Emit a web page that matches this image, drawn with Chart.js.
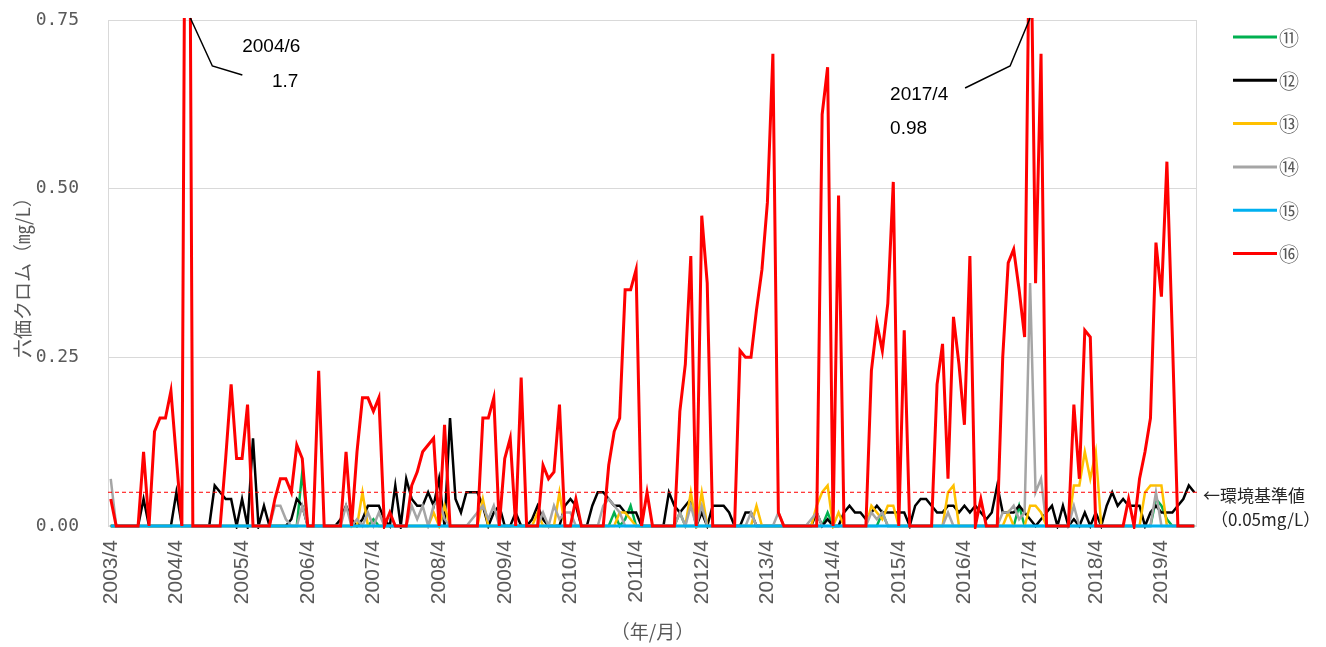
<!DOCTYPE html>
<html lang="ja">
<head>
<meta charset="utf-8">
<title>六価クロム</title>
<script src="https://cdn.jsdelivr.net/npm/chart.js@4.4.1/dist/chart.umd.min.js"></script>
<style>
  html, body { margin: 0; padding: 0; background: #fff; }
  #wrap { width: 1326px; height: 647px; }
</style>
</head>
<body>
<div id="wrap"><canvas id="canvas" width="1326" height="647"></canvas></div>
<script>
// monthly categories 2003/4 .. 2019/10
const months = [];
for (let i = 0; i < 199; i++) {
  const m = 3 + i;
  months.push((2003 + Math.floor(m / 12)) + '/' + (m % 12 + 1));
}
const yearTicks = months.filter(l => l.endsWith('/4'));
const yTicks = [0, 0.25, 0.5, 0.75];

const seriesNames = ['⑪', '⑫', '⑬', '⑭', '⑮', '⑯'];
const seriesColors = ['#00B050', '#000000', '#FFC000', '#A5A5A5', '#00B0F0', '#FF0000'];

// one row = one fiscal year (Apr .. Mar)
const s11 = [
  0, 0, 0, 0, 0, 0, 0, 0, 0, 0, 0, 0,
  0, 0, 0, 0, 0, 0, 0, 0, 0, 0, 0, 0,
  0, 0, 0, 0, 0, 0, 0, 0, 0, 0, 0, 0.08,
  0, 0, 0, 0, 0, 0, 0, 0, 0, 0, 0, 0,
  0.01, 0, 0, 0, 0, 0, 0, 0, 0, 0, 0, 0,
  0, 0, 0, 0, 0, 0, 0, 0, 0, 0, 0, 0,
  0, 0, 0, 0, 0, 0, 0, 0, 0, 0, 0, 0,
  0, 0, 0, 0, 0, 0, 0, 0, 0.02, 0, 0.01, 0.03,
  0, 0, 0, 0, 0, 0, 0, 0, 0.02, 0, 0, 0,
  0, 0, 0, 0, 0, 0, 0, 0, 0, 0, 0, 0,
  0, 0, 0, 0, 0, 0, 0, 0, 0, 0, 0, 0.02,
  0, 0, 0, 0, 0, 0, 0, 0, 0, 0.02, 0, 0,
  0, 0, 0, 0, 0, 0, 0, 0, 0, 0, 0, 0,
  0, 0, 0, 0, 0, 0, 0, 0, 0, 0, 0.03, 0,
  0, 0, 0, 0, 0, 0, 0, 0, 0, 0, 0, 0,
  0, 0, 0, 0, 0, 0, 0, 0, 0, 0, 0, 0.04,
  0.03, 0.01, 0, 0, 0, 0, 0
];
const s12 = [
  0, 0, 0, 0, 0, 0, 0.04, 0, 0, 0, 0, 0,
  0.05, 0, 0, 0, 0, 0, 0, 0.06, 0.05, 0.04, 0.04, 0,
  0.04, 0, 0.13, 0, 0.03, 0, 0, 0, 0, 0.01, 0.04, 0.03,
  0, 0, 0, 0, 0, 0, 0.01, 0.03, 0.01, 0, 0.01, 0.03,
  0.03, 0.03, 0.01, 0, 0.06, 0, 0.07, 0.04, 0.03, 0.03, 0.05, 0.03,
  0.07, 0, 0.16, 0.04, 0.02, 0.05, 0.05, 0.05, 0.03, 0, 0.02, 0.03,
  0, 0, 0.02, 0, 0, 0.01, 0.03, 0.01, 0, 0, 0, 0.03,
  0.04, 0.03, 0, 0, 0.03, 0.05, 0.05, 0.04, 0.03, 0.03, 0.02, 0.02,
  0.02, 0, 0, 0, 0, 0, 0.05, 0.03, 0.02, 0.03, 0.04, 0,
  0.02, 0, 0.03, 0.03, 0.03, 0.02, 0, 0, 0.02, 0.02, 0, 0,
  0, 0, 0, 0, 0, 0, 0, 0, 0, 0.02, 0, 0.01,
  0, 0, 0.02, 0.03, 0.02, 0.02, 0.01, 0.02, 0.03, 0.02, 0.02, 0.02,
  0.02, 0.02, 0, 0.03, 0.04, 0.04, 0.03, 0.02, 0.02, 0.03, 0.03, 0.02,
  0.03, 0.02, 0.03, 0.02, 0.01, 0.02, 0.06, 0.02, 0.02, 0.02, 0.03, 0.02,
  0.01, 0, 0.01, 0.02, 0.03, 0, 0.03, 0, 0.01, 0, 0.02, 0,
  0.02, 0, 0.03, 0.05, 0.03, 0.04, 0.03, 0.03, 0.03, 0, 0.02, 0.03,
  0.02, 0.02, 0.02, 0.03, 0.04, 0.06, 0.05
];
const s13 = [
  0, 0, 0, 0, 0, 0, 0, 0, 0, 0, 0, 0,
  0, 0, 0, 0, 0, 0, 0, 0, 0, 0, 0, 0,
  0, 0, 0, 0, 0, 0, 0, 0, 0, 0, 0, 0,
  0, 0, 0, 0, 0, 0, 0, 0, 0, 0, 0.05, 0,
  0, 0, 0, 0, 0, 0, 0, 0, 0, 0, 0, 0.02,
  0, 0.03, 0, 0, 0, 0, 0, 0, 0.04, 0, 0, 0,
  0, 0, 0, 0, 0, 0, 0.02, 0, 0, 0, 0.05, 0,
  0, 0, 0, 0, 0, 0, 0, 0, 0, 0.02, 0.02, 0.01,
  0, 0, 0, 0, 0, 0, 0, 0, 0, 0, 0.05, 0,
  0.05, 0, 0, 0, 0, 0, 0, 0, 0, 0, 0.03, 0,
  0, 0, 0, 0, 0, 0, 0, 0, 0, 0.03, 0.05, 0.06,
  0, 0.02, 0, 0, 0, 0, 0, 0.03, 0.02, 0.01, 0.03, 0.03,
  0, 0, 0, 0, 0, 0, 0, 0, 0, 0.05, 0.06, 0,
  0, 0, 0, 0, 0, 0, 0, 0, 0.02, 0, 0, 0,
  0.03, 0.03, 0.02, 0, 0, 0, 0, 0, 0.06, 0.06, 0.11, 0.07,
  0.11, 0, 0, 0, 0, 0, 0, 0, 0, 0.05, 0.06, 0.06,
  0.06, 0, 0, 0, 0, 0, 0
];
const s14 = [
  0.07, 0, 0, 0, 0, 0, 0, 0, 0, 0, 0, 0,
  0, 0, 0, 0, 0, 0, 0, 0, 0, 0, 0, 0,
  0, 0, 0, 0, 0, 0, 0.03, 0.03, 0.01, 0, 0, 0.03,
  0, 0, 0, 0, 0, 0, 0, 0.03, 0, 0.01, 0, 0.02,
  0, 0.02, 0, 0, 0, 0, 0, 0.03, 0.01, 0.03, 0, 0.03,
  0.04, 0.01, 0, 0, 0, 0, 0.01, 0.02, 0.03, 0.01, 0.03, 0,
  0, 0, 0, 0, 0, 0, 0, 0.02, 0, 0.03, 0.01, 0.02,
  0.02, 0, 0, 0, 0, 0, 0.03, 0.04, 0.03, 0.02, 0, 0,
  0, 0, 0, 0, 0, 0, 0, 0, 0.02, 0, 0.03, 0,
  0.03, 0, 0, 0, 0, 0, 0, 0, 0, 0.02, 0, 0,
  0, 0, 0.02, 0, 0, 0, 0, 0, 0.01, 0.02, 0, 0,
  0, 0, 0, 0, 0, 0, 0, 0.02, 0.01, 0.02, 0, 0,
  0, 0, 0, 0, 0, 0, 0, 0, 0, 0.02, 0, 0,
  0, 0, 0, 0, 0, 0, 0, 0.02, 0.02, 0.03, 0.01, 0.02,
  0.36, 0.05, 0.07, 0, 0, 0, 0, 0, 0.03, 0, 0, 0,
  0, 0, 0, 0, 0, 0, 0, 0, 0, 0, 0, 0.05,
  0, 0, 0, 0, 0, 0, 0
];
const s15 = [
  0, 0, 0, 0, 0, 0, 0, 0, 0, 0, 0, 0,
  0, 0, 0, 0, 0, 0, 0, 0, 0, 0, 0, 0,
  0, 0, 0, 0, 0, 0, 0, 0, 0, 0, 0, 0,
  0, 0, 0, 0, 0, 0, 0, 0, 0, 0, 0, 0,
  0, 0, 0, 0, 0, 0, 0, 0, 0, 0, 0, 0,
  0, 0, 0, 0, 0, 0, 0, 0, 0, 0, 0, 0,
  0, 0, 0, 0, 0, 0, 0, 0, 0, 0, 0, 0,
  0, 0, 0, 0, 0, 0, 0, 0, 0, 0, 0, 0,
  0, 0, 0, 0, 0, 0, 0, 0, 0, 0, 0, 0,
  0, 0, 0, 0, 0, 0, 0, 0, 0, 0, 0, 0,
  0, 0, 0, 0, 0, 0, 0, 0, 0, 0, 0, 0,
  0, 0, 0, 0, 0, 0, 0, 0, 0, 0, 0, 0,
  0, 0, 0, 0, 0, 0, 0, 0, 0, 0, 0, 0,
  0, 0, 0, 0, 0, 0, 0, 0, 0, 0, 0, 0,
  0, 0, 0, 0, 0, 0, 0, 0, 0, 0, 0, 0,
  0, 0, 0, 0, 0, 0, 0, 0, 0, 0, 0, 0,
  0, 0, 0, 0, 0, 0, 0
];
const s16 = [
  0.04, 0, 0, 0, 0, 0, 0.11, 0, 0.14, 0.16, 0.16, 0.20,
  0.10, 0, 1.7, 0, 0, 0, 0, 0, 0, 0.10, 0.21, 0.10,
  0.10, 0.18, 0, 0, 0, 0, 0.04, 0.07, 0.07, 0.05, 0.12, 0.10,
  0, 0, 0.23, 0, 0, 0, 0, 0.11, 0, 0.11, 0.19, 0.19,
  0.17, 0.19, 0, 0.02, 0, 0, 0, 0.06, 0.08, 0.11, 0.12, 0.13,
  0, 0.15, 0, 0, 0, 0, 0, 0, 0.16, 0.16, 0.19, 0,
  0.10, 0.13, 0, 0.22, 0, 0, 0, 0.09, 0.07, 0.08, 0.18, 0,
  0, 0.04, 0, 0, 0, 0, 0, 0.09, 0.14, 0.16, 0.35, 0.35,
  0.38, 0, 0.05, 0, 0, 0, 0, 0, 0.17, 0.24, 0.40, 0,
  0.46, 0.36, 0, 0, 0, 0, 0, 0.26, 0.25, 0.25, 0.32, 0.38,
  0.48, 0.70, 0.02, 0, 0, 0, 0, 0, 0, 0, 0.61, 0.68,
  0, 0.49, 0, 0, 0, 0, 0, 0.23, 0.30, 0.26, 0.33, 0.51,
  0, 0.29, 0, 0, 0, 0, 0, 0.21, 0.27, 0.07, 0.31, 0.24,
  0.15, 0.40, 0, 0.04, 0, 0, 0, 0.25, 0.39, 0.41, 0.35, 0.28,
  0.98, 0.36, 0.70, 0, 0, 0, 0, 0, 0.18, 0.07, 0.29, 0.28,
  0, 0, 0, 0, 0, 0, 0.04, 0, 0.07, 0.11, 0.16, 0.42,
  0.34, 0.54, 0.28, 0, 0, 0, 0
];
const series = [s11, s12, s13, s14, s15, s16];

const standardValue = 0.05;
const standardText = ['←環境基準値', '（0.05mg/L）'];
// off-scale peaks of ⑯ that get a call-out
const peakIndexes = [14, 168];

const cjk = '"Noto Sans CJK JP", sans-serif';
const grayText = '#595959';

const overlay = {
  id: 'overlay',
  beforeDatasetsDraw(chart) {
    const { ctx, chartArea: a } = chart;
    ctx.save();
    ctx.strokeStyle = '#D9D9D9';
    ctx.lineWidth = 1;
    ctx.strokeRect(a.left + 0.5, a.top + 0.5, a.width - 1, a.height - 1);
    ctx.restore();
  },
  afterDatasetsDraw(chart) {
    const { ctx, chartArea: a, scales: { x, y } } = chart;
    ctx.save();

    // standard value line
    const ys = y.getPixelForValue(standardValue);
    ctx.strokeStyle = '#FF0000';
    ctx.lineWidth = 1;
    ctx.setLineDash([4, 3]);
    ctx.beginPath();
    ctx.moveTo(a.left, ys);
    ctx.lineTo(a.right, ys);
    ctx.stroke();
    ctx.setLineDash([]);
    ctx.fillStyle = '#262626';
    ctx.font = '17px ' + cjk;
    ctx.textBaseline = 'middle';
    ctx.textAlign = 'left';
    ctx.fillText(standardText[0], a.right + 6, ys + 3);
    ctx.fillText(standardText[1], a.right + 14, ys + 27);

    // call-outs
    ctx.strokeStyle = '#000';
    ctx.lineWidth = 1.5;
    ctx.fillStyle = '#000';
    ctx.font = '19px "Liberation Sans Narrow", "Liberation Sans", sans-serif';
    peakIndexes.forEach(idx => {
      const px = x.getPixelForValue(idx);
      const t = a.top;
      const label = months[idx];
      const val = String(s16[idx]);
      ctx.beginPath();
      if (idx < 100) {
        ctx.moveTo(px + 3, t - 2);
        ctx.lineTo(px + 25, t + 46);
        ctx.lineTo(px + 55, t + 55);
        ctx.stroke();
        ctx.textAlign = 'right';
        ctx.fillText(label, px + 113, t + 27);
        ctx.fillText(val, px + 111, t + 62);
      } else {
        ctx.moveTo(px, t - 2);
        ctx.lineTo(px - 20, t + 46);
        ctx.lineTo(px - 65, t + 68);
        ctx.stroke();
        ctx.textAlign = 'left';
        ctx.fillText(label, px - 140, t + 75);
        ctx.fillText(val, px - 140, t + 109);
      }
    });

    // legend
    ctx.font = '20px ' + cjk;
    ctx.textAlign = 'left';
    ctx.fillStyle = grayText;
    ctx.lineWidth = 3;
    chart.data.datasets.forEach((ds, i) => {
      const ly = 37 + i * 43.3;
      ctx.strokeStyle = ds.borderColor;
      ctx.beginPath();
      ctx.moveTo(a.right + 36, ly);
      ctx.lineTo(a.right + 80, ly);
      ctx.stroke();
      ctx.fillText(ds.label, a.right + 82, ly + 1);
    });
    ctx.restore();
  }
};

new Chart(document.getElementById('canvas'), {
  type: 'line',
  data: {
    labels: months,
    datasets: series.map((d, i) => ({
      label: seriesNames[i],
      data: d,
      borderColor: seriesColors[i],
      backgroundColor: seriesColors[i],
      borderWidth: (i === 5 || i === 4) ? 3 : 2.5,
      pointRadius: 0,
      tension: 0,
      fill: false,
      clip: { left: 3, right: 3, top: 2, bottom: 3 },
      order: 5 - i
    }))
  },
  options: {
    responsive: false,
    animation: false,
    layout: { padding: { left: 0, right: 129, top: 20, bottom: 0 } },
    plugins: { legend: { display: false }, tooltip: { enabled: false } },
    scales: {
      x: {
        type: 'category',
        offset: true,
        grid: { display: false, drawTicks: false },
        border: { display: false },
        ticks: {
          autoSkip: false,
          maxRotation: 90,
          minRotation: 90,
          padding: 14,
          color: grayText,
          font: { family: '"Liberation Sans", Arial, sans-serif', size: 21 },
          callback: function (v) {
            const l = this.getLabelForValue(v);
            return yearTicks.includes(l) ? l : '';
          }
        },
        title: {
          display: true,
          text: '（年/月）',
          color: grayText,
          font: { family: cjk, size: 19 },
          padding: { top: 0, bottom: 4 }
        },
        afterFit: s => { s.height = 121; s.paddingLeft = 0; s.paddingRight = 0; }
      },
      y: {
        min: 0,
        max: 0.75,
        afterBuildTicks: s => { s.ticks = yTicks.map(v => ({ value: v })); },
        grid: { color: '#D9D9D9', lineWidth: 1, drawTicks: false },
        border: { display: true, color: '#D9D9D9' },
        ticks: {
          padding: 29,
          color: grayText,
          font: { family: '"DejaVu Sans Mono", monospace', size: 18 },
          callback: v => v.toFixed(2)
        },
        title: {
          display: true,
          text: '六価クロム（㎎/L）',
          color: grayText,
          font: { family: cjk, size: 19 },
          padding: { top: 11, bottom: 0 }
        },
        afterFit: s => { s.width = 108; s.paddingTop = 0; s.paddingBottom = 0; }
      }
    }
  },
  plugins: [overlay]
});
</script>
</body>
</html>
